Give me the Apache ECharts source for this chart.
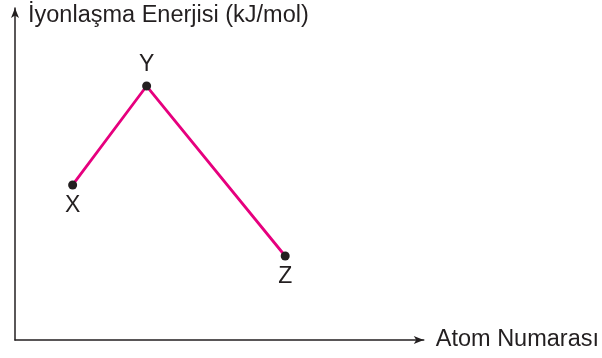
<!DOCTYPE html>
<html>
<head>
<meta charset="utf-8">
<script src="https://cdn.jsdelivr.net/npm/echarts@6/dist/echarts.min.js"></script>
<style>
  html, body { margin: 0; padding: 0; background: #fff; }
  #chart { width: 602px; height: 358px; }
</style>
</head>
<body>
<div id="chart"></div>
<script>
// points (arbitrary units)
var pointNames = ['X', 'Y', 'Z']
var atomNumber = [14.1, 32.2, 66.1]
var energy = [46.7, 76.5, 25.3]
var labelPos = ['bottom', 'top', 'bottom']

var chart = echarts.init(document.getElementById('chart'))

var data = pointNames.map(function(n, i) {
  return {
    name: n,
    value: [atomNumber[i], energy[i]],
    label: { position: labelPos[i] }
  }
})

var axisColor = '#231f20'
var font = 'Liberation Sans, Arial, sans-serif'

chart.setOption({
  animation: false,
  grid: { left: 15, right: 177, top: 8, bottom: 18 },
  xAxis: {
    type: 'value',
    min: 0,
    max: 100,
    name: 'Atom Numarası',
    nameLocation: 'end',
    nameGap: 12,
    nameTextStyle: { color: axisColor, fontSize: 23.5, fontFamily: font, align: 'left', verticalAlign: 'middle' },
    axisLine: { show: true, symbol: ['none', 'arrow'], symbolSize: [6, 10], lineStyle: { color: axisColor, width: 1.5 } },
    axisTick: { show: false },
    axisLabel: { show: false },
    splitLine: { show: false }
  },
  yAxis: {
    type: 'value',
    min: 0,
    max: 100,
    name: 'İyonlaşma Enerjisi (kJ/mol)',
    nameLocation: 'end',
    nameGap: -8,
    nameTextStyle: { color: axisColor, fontSize: 23.5, fontFamily: font, align: 'left', verticalAlign: 'middle', padding: [0, 0, 0, 13] },
    axisLine: { show: true, symbol: ['none', 'arrow'], symbolSize: [6, 10], lineStyle: { color: axisColor, width: 1.5 } },
    axisTick: { show: false },
    axisLabel: { show: false },
    splitLine: { show: false }
  },
  series: [{
    type: 'line',
    data: data,
    symbol: 'circle',
    symbolSize: 9,
    itemStyle: { color: axisColor },
    lineStyle: { color: '#e6007e', width: 2.8 },
    label: {
      show: true,
      formatter: '{b}',
      color: axisColor,
      fontSize: 23,
      fontFamily: font,
      distance: 5
    }
  }]
})
</script>
</body>
</html>
